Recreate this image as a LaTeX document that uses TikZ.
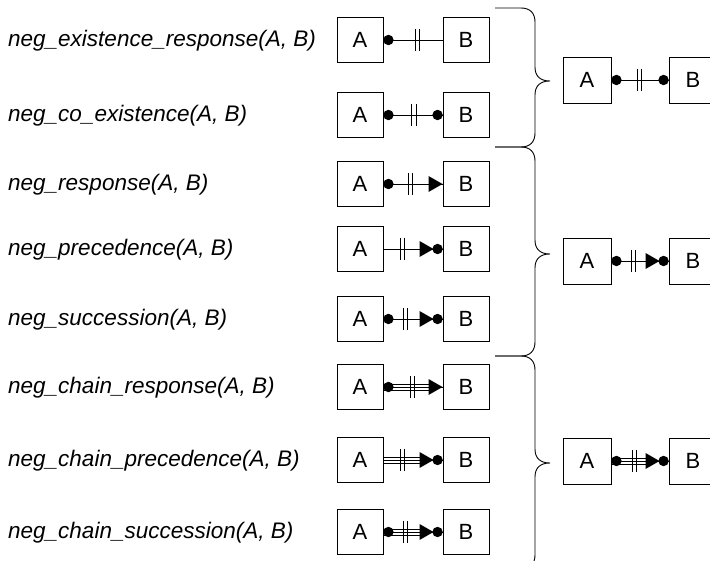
\documentclass[tikz,border=0pt]{standalone}
\usepackage{fontspec}
\setmainfont{Liberation Sans}
\usetikzlibrary{calc}
\newcommand\mydot[1]{\fill[black] #1 circle[radius=5.2pt];}
\newcommand\mybars[3]{\draw[conn] ($(#1.east)+(#2,-11)$) -- ++(0,22) ($(#1.east)+(#3,-11)$) -- ++(0,22);}
\newcommand\mytri[2]{\fill[black] ($(#1.west)+(-#2,0)$) -- ++(-14,-8) -- ++(0,16) -- cycle;}
\newcommand\mytriple[3]{\draw[conn] ($(#1.east)+(0,-3)$) -- ($(#2.west)+(-#3,-3)$) ($(#1.east)+(0,3)$) -- ($(#2.west)+(-#3,3)$);}
\newcommand\mybrace[3]{\draw[conn] (495,#1) -- (521,#1) .. controls (530,#1) and (535,#1+5) .. (535,#1+14) -- (535,#2-14) .. controls (535,#2-5) and (540,#2) .. (550,#2) .. controls (540,#2) and (535,#2+5) .. (535,#2+14) -- (535,#3-14) .. controls (535,#3-5) and (530,#3) .. (521,#3) -- (495,#3);}
\begin{document}
\begin{tikzpicture}[x=1pt,y=-1pt,
  conn/.style={line width=0.9pt, black},
  box/.style={draw=black, line width=0.9pt, minimum width=46pt, minimum height=45pt, inner sep=0pt, font=\fontsize{22}{25}\selectfont},
  rbox/.style={box, minimum width=48pt, minimum height=46pt},
  lbl/.style={anchor=west, inner sep=0pt, font=\fontsize{22.5}{26}\selectfont\itshape}]
\useasboundingbox (0,0) rectangle (710,561);
\clip (0,0) rectangle (710,561);
% labels
\node[lbl] (l1) at (8,41) {neg\_existence\_response(A, B)};
\node[lbl] (l2) at (8,116) {neg\_co\_existence(A, B)};
\node[lbl] (l3) at (8,185) {neg\_response(A, B)};
\node[lbl] (l4) at (8,250) {neg\_precedence(A, B)};
\node[lbl] (l5) at (8,320) {neg\_succession(A, B)};
\node[lbl] (l6) at (8,388) {neg\_chain\_response(A, B)};
\node[lbl] (l7) at (8,461) {neg\_chain\_precedence(A, B)};
\node[lbl] (l8) at (8,533) {neg\_chain\_succession(A, B)};
% boxes
\foreach \i/\y in {1/40,2/115,3/184,4/249,5/319,6/387,7/460,8/532}{
  \node[box] (a\i) at (360,\y) {A};
  \node[box] (b\i) at (466,\y) {B};
}
\node[rbox] (ra1) at (587,80) {A};  \node[rbox] (rb1) at (693,80) {B};
\node[rbox] (ra2) at (587,261) {A}; \node[rbox] (rb2) at (693,261) {B};
\node[rbox] (ra3) at (587,461) {A}; \node[rbox] (rb3) at (693,461) {B};
% row 1
\draw[conn] (a1.east) -- (b1.west);
\mydot{($(a1.east)+(5,0)$)}
\mybars{a1}{32}{36}
% row 2
\draw[conn] (a2.east) -- (b2.west);
\mydot{($(a2.east)+(5,0)$)}
\mydot{($(b2.west)+(-5,0)$)}
\mybars{a2}{28}{33}
% row 3
\draw[conn] (a3.east) -- (b3.west);
\mydot{($(a3.east)+(5,0)$)}
\mybars{a3}{25}{29}
\mytri{b3}{0}
% row 4
\draw[conn] (a4.east) -- (b4.west);
\mybars{a4}{17}{21}
\mytri{b4}{9}
\mydot{($(b4.west)+(-5,0)$)}
% row 5
\draw[conn] (a5.east) -- (b5.west);
\mydot{($(a5.east)+(5,0)$)}
\mybars{a5}{20}{24}
\mytri{b5}{9}
\mydot{($(b5.west)+(-5,0)$)}
% row 6
\draw[conn] (a6.east) -- (b6.west);
\mytriple{a6}{b6}{11}
\mydot{($(a6.east)+(5,0)$)}
\mybars{a6}{27}{31}
\mytri{b6}{0}
% row 7
\draw[conn] (a7.east) -- (b7.west);
\mytriple{a7}{b7}{20}
\mybars{a7}{17}{21}
\mytri{b7}{9}
\mydot{($(b7.west)+(-5,0)$)}
% row 8
\draw[conn] (a8.east) -- (b8.west);
\mytriple{a8}{b8}{20}
\mydot{($(a8.east)+(5,0)$)}
\mybars{a8}{20}{24}
\mytri{b8}{9}
\mydot{($(b8.west)+(-5,0)$)}
% right 1
\draw[conn] (ra1.east) -- (rb1.west);
\mydot{($(ra1.east)+(5,0)$)}
\mydot{($(rb1.west)+(-5,0)$)}
\mybars{ra1}{26}{30}
% right 2
\draw[conn] (ra2.east) -- (rb2.west);
\mydot{($(ra2.east)+(5,0)$)}
\mybars{ra2}{20}{24}
\mytri{rb2}{9}
\mydot{($(rb2.west)+(-5,0)$)}
% right 3
\draw[conn] (ra3.east) -- (rb3.west);
\mytriple{ra3}{rb3}{20}
\mydot{($(ra3.east)+(5,0)$)}
\mybars{ra3}{21}{25}
\mytri{rb3}{9}
\mydot{($(rb3.west)+(-5,0)$)}
% braces
\mybrace{8}{81}{147}
\mybrace{147}{254}{356}
\mybrace{356}{463}{569}
\end{tikzpicture}
\end{document}
